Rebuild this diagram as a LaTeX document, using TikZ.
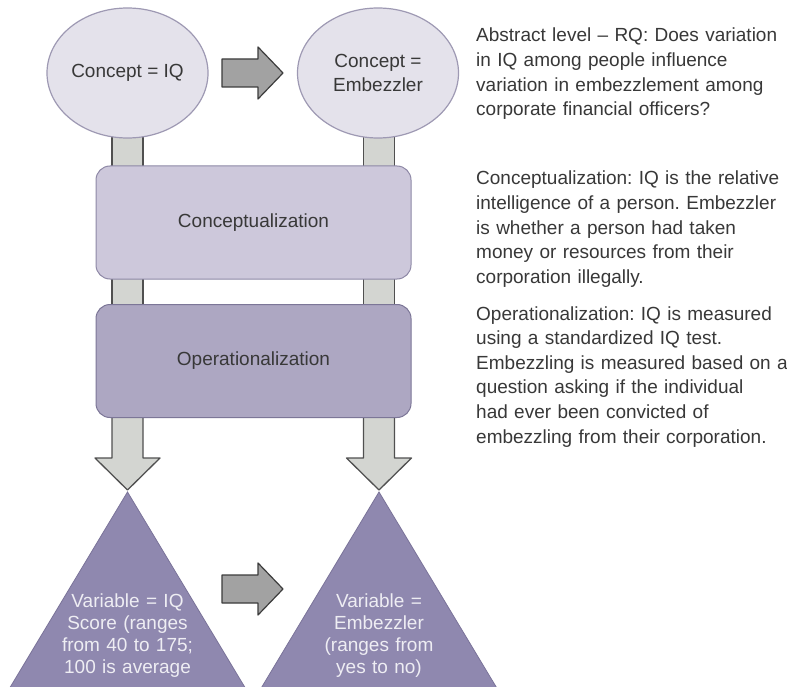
\documentclass[tikz,border=0pt]{standalone}
\usepackage{fontspec}
\setmainfont{Liberation Sans}
\usetikzlibrary{backgrounds,calc,shapes.geometric}

\definecolor{txt}{HTML}{383838}
\definecolor{ellfill}{HTML}{E4E2EB}
\definecolor{ellline}{HTML}{9E99B3}
\definecolor{concfill}{HTML}{CDC8DB}
\definecolor{concline}{HTML}{8E88A6}
\definecolor{operfill}{HTML}{ADA7C2}
\definecolor{operline}{HTML}{7C7697}
\definecolor{trifill}{HTML}{8F88AF}
\definecolor{triline}{HTML}{7A7399}
\definecolor{tritext}{HTML}{EEEDF3}
\definecolor{stubfill}{HTML}{D3D5D1}
\definecolor{stubline}{HTML}{505050}
\definecolor{arrfill}{HTML}{A2A2A2}
\definecolor{arrline}{HTML}{3C3C3C}

\begin{document}
\frenchspacing
\begin{tikzpicture}[x=1pt,y=-1pt,
  every node/.style={inner sep=0pt, text=txt, font=\fontsize{19}{24.6}\selectfont},
  concept/.style={ellipse, draw=ellline, fill=ellfill, line width=1.2pt,
    minimum width=161pt, minimum height=130pt, align=center},
  stage/.style={rectangle, rounded corners=14pt, minimum width=315pt,
    minimum height=113pt, line width=1pt},
  stub/.style={fill=stubfill, draw=stubline, line width=1.3pt, line join=round},
  blockarrow/.style={fill=arrfill, draw=arrline, line width=1.2pt, line join=round},
  tri/.style={fill=trifill, draw=triline, line width=0.8pt},
  note/.style={anchor=base west, text width=330pt, align=left},
  trinote/.style={anchor=base, text width=170pt, align=center, text=tritext,
    font=\fontsize{19}{22}\selectfont}]

\useasboundingbox (0,0) rectangle (787,687);
\clip (0,0) rectangle (787,687);

% column axes of the two variables
\coordinate (colL) at (127.5,0);
\coordinate (colR) at (379,0);

% variable triangles (cut by the lower edge)
\draw[tri] (colL |- 0,492) -- ++(-125,208) -- ++(250,0) -- cycle;
\draw[tri] (colR |- 0,492) -- ++(-125,208) -- ++(250,0) -- cycle;

% concepts
\node[concept] (cIQ) at (127.5,73) {Concept = IQ};
\node[concept] (cEmb) at (378,73) {Concept =\\Embezzler};

% stages
\node[stage, fill=concfill, draw=concline] (conc) at (253.5,222.5) {Conceptualization};
\node[stage, fill=operfill, draw=operline] (oper) at (253.5,361) {Operationalization};

% links behind the concepts and stages
\begin{scope}[on background layer]
  \fill[white] (0,0) rectangle (787,687);
  \foreach \c in {colL,colR} {
    \draw[stub] ($(\c |- cIQ.center)+(-15.5,0)$) rectangle ($(\c |- oper.center)+(15.5,0)$);
    \draw[stub] ($(\c |- oper.center)+(-15.5,0)$) -- ++(0,97) -- ++(-17,0)
      -- ++(32.5,32) -- ++(32.5,-32) -- ++(-17,0) -- ++(0,-97) -- cycle;
  }
\end{scope}

% causal arrows
\coordinate (hTop) at (222,73);
\coordinate (hBot) at (222,589);
\foreach \h in {hTop,hBot} {
  \draw[blockarrow] (\h) ++(0,-14) -- ++(36,0) -- ++(0,-12) -- ++(25,26)
    -- ++(-25,26) -- ++(0,-12) -- ++(-36,0) -- cycle;
}

% variables
\node[trinote] (vIQ) at (127.5,607) {Variable = IQ\\Score (ranges\\from 40 to 175;\\100 is average};
\node[trinote] (vEmb) at (379,607) {Variable =\\Embezzler\\(ranges from\\yes to no)};

% explanations
\node[note] (rq) at (476,42) {Abstract level – RQ: Does variation\\in IQ among people influence\\variation in embezzlement among\\corporate financial officers?};
\node[note] (cdef) at (476,185) {Conceptualization: IQ is the relative\\intelligence of a person. Embezzler\\is whether a person had taken\\money or resources from their\\corporation illegally.};
\node[note] (odef) at (476,320) {Operationalization: IQ is measured\\using a standardized IQ test.\\Embezzling is measured based on a\\question asking if the individual\\had ever been convicted of\\embezzling from their corporation.};
\end{tikzpicture}
\end{document}
